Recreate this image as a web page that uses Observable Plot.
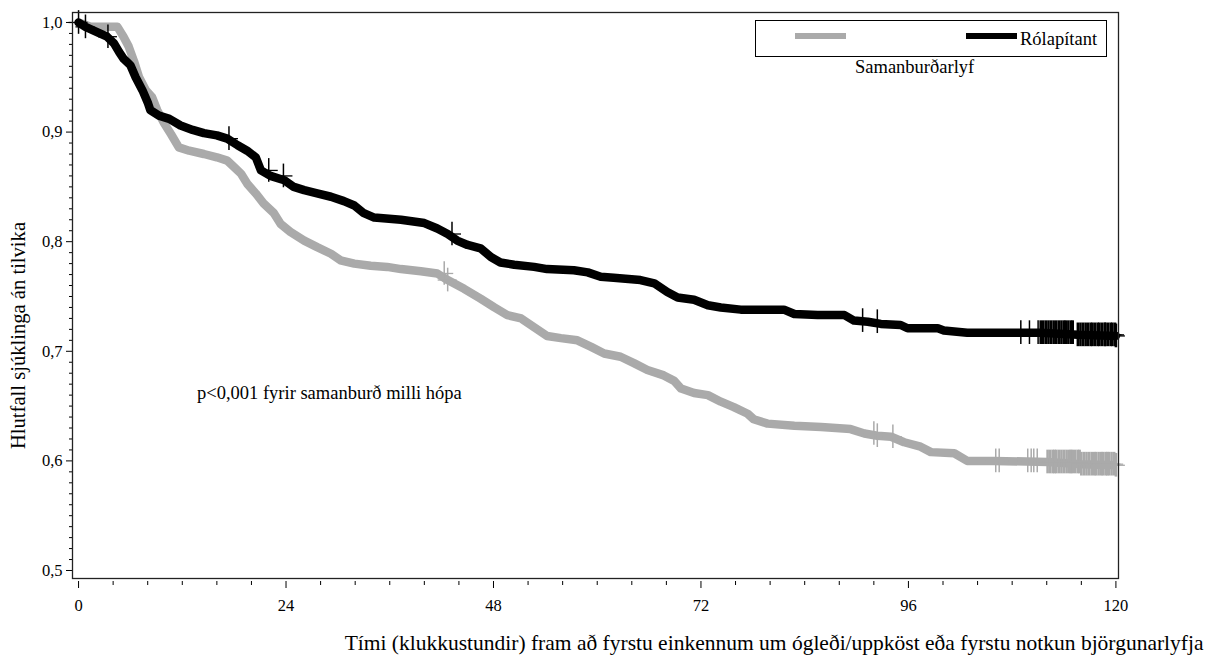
<!DOCTYPE html>
<html>
<head>
<meta charset="utf-8">
<script src="https://cdn.jsdelivr.net/npm/d3@7"></script>
<script src="https://cdn.jsdelivr.net/npm/@observablehq/plot@0.6"></script>
<style>
  body { margin: 0; background: #fff; }
  #wrap { position: relative; width: 1210px; height: 657px; }
</style>
</head>
<body>
<div id="wrap"></div>
<script>
// ---- Data ----
// Rólapítant (black) Kaplan–Meier curve
const rolaTime = [0, 0.8, 2.2, 3.3, 4.1, 4.7, 5.2, 6.0, 6.6, 7.4, 8.0, 8.3, 9.3, 10.5, 11.8, 13.2, 14.5, 16.0, 17.2, 18.4, 19.5, 20.5, 21.1, 22.2, 23.8, 24.9, 26.1, 27.6, 29.2, 30.7, 31.9, 33.0, 34.2, 37.3, 40.0, 41.5, 42.7, 43.8, 45.0, 46.5, 47.7, 48.8, 50.4, 52.7, 54.2, 57.3, 58.9, 60.4, 61.9, 65.0, 66.6, 68.1, 69.3, 71.2, 72.8, 74.3, 76.6, 81.6, 82.8, 85.5, 88.6, 89.7, 91.3, 92.8, 95.1, 95.9, 99.4, 100.1, 102.8, 111.3, 115.6, 120.0];
const rolaSurv = [1.000, 0.996, 0.991, 0.987, 0.981, 0.973, 0.967, 0.961, 0.950, 0.938, 0.927, 0.920, 0.915, 0.912, 0.906, 0.902, 0.899, 0.897, 0.894, 0.888, 0.883, 0.877, 0.865, 0.860, 0.856, 0.850, 0.847, 0.844, 0.841, 0.837, 0.833, 0.826, 0.822, 0.820, 0.817, 0.812, 0.807, 0.801, 0.797, 0.794, 0.786, 0.781, 0.779, 0.777, 0.775, 0.774, 0.772, 0.768, 0.767, 0.765, 0.762, 0.754, 0.749, 0.747, 0.742, 0.740, 0.738, 0.738, 0.734, 0.733, 0.733, 0.728, 0.727, 0.725, 0.724, 0.721, 0.721, 0.719, 0.717, 0.717, 0.715, 0.714];
// Samanburðarlyf (grey) Kaplan–Meier curve
const compTime = [0, 1.4, 4.5, 5.2, 5.8, 6.4, 7.0, 7.8, 8.5, 9.1, 9.9, 10.7, 11.6, 12.8, 14.5, 16.0, 17.2, 18.0, 18.8, 19.5, 20.5, 21.4, 22.6, 23.4, 24.5, 26.1, 27.6, 29.2, 30.3, 31.9, 33.8, 35.7, 37.3, 39.6, 41.5, 42.7, 44.6, 46.5, 48.1, 49.6, 51.2, 52.7, 54.2, 55.8, 57.7, 59.3, 60.8, 62.7, 64.3, 65.8, 67.7, 68.9, 69.7, 71.2, 72.8, 74.3, 75.8, 77.4, 78.1, 79.7, 82.8, 85.9, 89.3, 90.9, 92.4, 94.0, 95.5, 97.4, 98.6, 101.3, 102.8, 105.9, 112.1, 116.0, 120.0];
const compSurv = [1.000, 0.996, 0.996, 0.987, 0.978, 0.965, 0.950, 0.938, 0.932, 0.920, 0.908, 0.898, 0.886, 0.883, 0.880, 0.877, 0.874, 0.868, 0.862, 0.853, 0.844, 0.835, 0.826, 0.816, 0.809, 0.801, 0.795, 0.789, 0.783, 0.780, 0.778, 0.777, 0.775, 0.773, 0.771, 0.765, 0.757, 0.748, 0.740, 0.733, 0.730, 0.722, 0.714, 0.712, 0.710, 0.704, 0.698, 0.695, 0.689, 0.683, 0.678, 0.673, 0.666, 0.662, 0.660, 0.654, 0.649, 0.643, 0.638, 0.634, 0.632, 0.631, 0.629, 0.625, 0.623, 0.622, 0.617, 0.613, 0.608, 0.607, 0.600, 0.600, 0.599, 0.597, 0.596];
// Censoring times (tick marks on the curves)
const rolaCensor = [0, 0.8, 3.4, 17.4, 22.0, 23.7, 43.2, 90.7, 92.4, 109.0, 110.0, 111.0,
  111.3, 111.6, 111.9, 112.2, 112.5, 112.8, 113.1, 113.4, 113.7, 114.0, 114.2, 114.5, 114.8, 115.0,
  115.6, 115.9, 116.2, 116.5, 116.8, 117.1, 117.3, 117.6, 117.9, 118.1, 118.4, 118.7,
  118.8, 119.1, 119.4, 119.6, 119.9, 120.0];
const compCensor = [42.3, 42.7, 92.0, 92.4, 94.2, 106.1, 106.5, 109.8, 110.2, 110.5, 110.9,
  112.1, 112.4, 112.7, 112.9, 113.1, 113.4, 113.7, 114.0, 114.3, 114.6, 114.8, 115.0, 115.3, 115.6, 115.8,
  116.0, 116.3, 116.6, 116.9, 117.2, 117.5, 117.7, 118.0, 118.3, 118.5, 118.8, 119.0,
  119.2, 119.5, 119.8, 120.0];
// Axes
const xTicks = [0, 24, 48, 72, 96, 120];
const xTickLabels = ["0", "24", "48", "72", "96", "120"];
const yTicks = [0.5, 0.6, 0.7, 0.8, 0.9, 1.0];
const yTickLabels = ["0,5", "0,6", "0,7", "0,8", "0,9", "1,0"];
const seriesNames = ["Samanburðarlyf", "Rólapítant"];
const seriesColors = ["#aaaaaa", "#000000"];
const xTitle = "Tími (klukkustundir) fram að fyrstu einkennum um ógleði/uppköst eða fyrstu notkun björgunarlyfja";
const yTitle = "Hlutfall sjúklinga án tilvika";
const annotation = "p<0,001 fyrir samanburð milli hópa";
const annotationAt = {t: 13.7, v: 0.6615};

// ---- Build tables ----
const rola = rolaTime.map((t, i) => ({t, v: rolaSurv[i]}));
const comp = compTime.map((t, i) => ({t, v: compSurv[i]}));
function valueAt(curve, t) {
  let v = curve[0].v;
  for (const p of curve) { if (p.t <= t) v = p.v; else break; }
  return v;
}
const rolaC = rolaCensor.map(t => ({t, v: valueAt(rola, t), dense: t > 111.2}));
const compC = compCensor.map(t => ({t, v: valueAt(comp, t), dense: t > 112}));
const xLab = new Map(xTicks.map((d, i) => [d, xTickLabels[i]]));
const yLab = new Map(yTicks.map((d, i) => [d, yTickLabels[i]]));
const xMinor = d3.range(0, 121, 4).filter(d => !xTicks.includes(d));
const yMinor = d3.range(50, 101, 1).map(d => d / 100).filter(d => !yTicks.some(t => Math.abs(t - d) < 1e-9));

const hv = 0.0108, hh = 1.1;
function censorMarks(data, color) {
  return [
    Plot.ruleX(data, {x: "t", y1: d => d.v - hv, y2: d => d.v + hv, stroke: color, strokeWidth: d => d.dense ? 2.6 : 1.5}),
    Plot.ruleY(data, {y: "v", x1: d => d.t - hh, x2: d => Math.min(d.t + hh, 121.3), stroke: color, strokeWidth: 1.3})
  ];
}
const FONT = '"Liberation Serif"';

const chart = Plot.plot({
  width: 1210,
  height: 657,
  marginLeft: 72,
  marginRight: 92,
  marginTop: 12,
  marginBottom: 79,
  style: {fontFamily: FONT, fontSize: "16px", color: "#000", background: "#fff", overflow: "visible"},
  x: {domain: [-0.7, 120.3]},
  y: {domain: [0.4927, 1.0091]},
  marks: [
    Plot.axisY({ticks: yTicks, tickFormat: d => yLab.get(d), tickSize: 6, tickPadding: 4, label: null, fontSize: 16.5}),
    Plot.axisY({ticks: yMinor, tickFormat: () => "", tickSize: 3, label: null}),
    Plot.axisX({ticks: xTicks, tickFormat: d => xLab.get(d), tickSize: 7, tickPadding: 11, dy: 3, label: null, fontSize: 16.5}),
    Plot.axisX({ticks: xMinor, tickFormat: () => "", tickSize: 4, dy: 3, label: null}),
    Plot.line(comp, {x: "t", y: "v", stroke: seriesColors[0], strokeWidth: 8.5, strokeLinejoin: "round", strokeLinecap: "butt"}),
    ...censorMarks(compC, seriesColors[0]),
    Plot.line(rola, {x: "t", y: "v", stroke: seriesColors[1], strokeWidth: 8.5, strokeLinejoin: "round", strokeLinecap: "round"}),
    ...censorMarks(rolaC, seriesColors[1]),
    Plot.frame({stroke: "#222", strokeWidth: 1.3}),
    Plot.text([annotation], {x: () => annotationAt.t, y: () => annotationAt.v, text: d => d, textAnchor: "start", lineAnchor: "middle", fontSize: 18.5}),
    Plot.text([xTitle], {frameAnchor: "bottom-right", text: d => d, textAnchor: "end", lineAnchor: "middle", dx: 85, dy: 65, fontSize: 21.5}),
    Plot.text([yTitle], {frameAnchor: "left", text: d => d, rotate: -90, textAnchor: "middle", lineAnchor: "middle", dx: -54, dy: 40, fontSize: 20.6})
  ]
});

chart.setAttribute("font-family", FONT);
chart.querySelectorAll("g, text").forEach(t => { t.setAttribute("font-family", FONT); t.style.fontFamily = FONT; });

const wrap = document.getElementById("wrap");
wrap.appendChild(chart);

// Legend (HTML overlay)
function el(styles, text) {
  const d = document.createElement("div");
  d.style.position = "absolute";
  d.style.fontFamily = FONT;
  d.style.fontSize = "18.5px";
  d.style.lineHeight = "1";
  d.style.color = "#000";
  d.style.whiteSpace = "nowrap";
  Object.assign(d.style, styles);
  if (text) d.textContent = text;
  wrap.appendChild(d);
  return d;
}
el({left: "755px", top: "20px", width: "352px", height: "37px", border: "1.5px solid #000", boxSizing: "border-box"});
el({left: "795px", top: "33px", width: "51px", height: "6px", background: seriesColors[0]});
el({left: "966px", top: "33px", width: "51px", height: "6px", background: seriesColors[1]});
el({left: "1020px", top: "30px"}, seriesNames[1]);
el({left: "855px", top: "58px"}, seriesNames[0]);
</script>
</body>
</html>
